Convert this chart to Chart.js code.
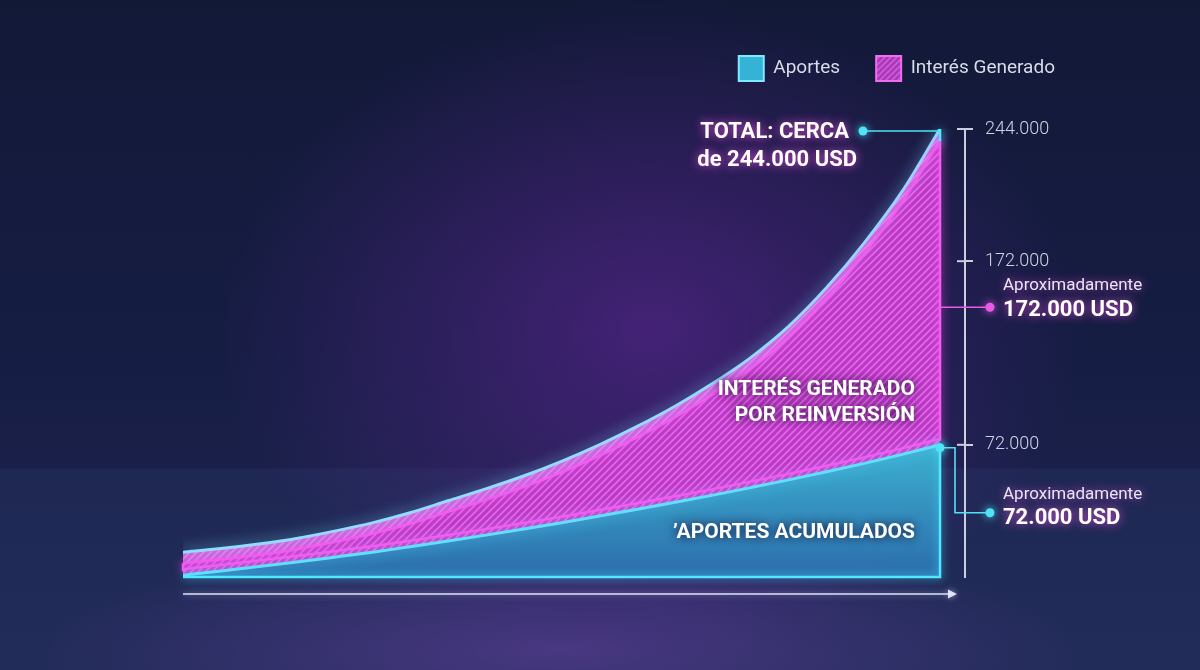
<!DOCTYPE html>
<html>
<head>
<meta charset="utf-8">
<script src="https://cdn.jsdelivr.net/npm/chart.js@4.4.0/dist/chart.umd.min.js"></script>
<style>
  html, body { margin: 0; padding: 0; width: 1200px; height: 670px; overflow: hidden; }
  body {
    background:
      radial-gradient(ellipse 430px 330px at 650px 330px, rgba(105, 38, 160, 0.55), rgba(105, 38, 160, 0) 100%),
      radial-gradient(ellipse 520px 110px at 560px 650px, rgba(120, 70, 180, 0.45), rgba(120, 70, 180, 0) 100%),
      linear-gradient(180deg, #121937 0%, #161d44 55%, #1a2049 69.8%, #1e2853 70%, #222c59 100%);
  }
  #wrap { position: relative; width: 1200px; height: 670px; }
</style>
</head>
<body>
<div id="wrap"><canvas id="myChart" width="1200" height="670"></canvas></div>
<script>
// years of the plan (x axis, not labelled in the picture)
let years = [0,1,2,3,4,5,6,7,8,9,10,11,12,13,14,15,16,17,18,19,20];
// accumulated contributions, USD
let aportes = [1000,3300,5700,8200,10800,13500,16500,19600,22800,26100,29600,33200,36900,40700,44600,48700,52900,57300,61900,66800,72000];
// interest generated by reinvestment, USD (stacked on aportes)
let interes = [12500,12200,12300,12800,14200,16000,18500,21900,25200,28900,33400,38800,45100,52300,60900,70800,83600,100200,120100,143200,172000];
// right axis tick values
let yTicks = [72000, 172000, 244000];

const fmt = v => v.toLocaleString('de-DE');
const FONT = "Roboto, 'Noto Sans', sans-serif";

// diagonal hatch used for the interest area
function makeHatch(base, stripe, size) {
  const c = document.createElement('canvas');
  c.width = size; c.height = size;
  const g = c.getContext('2d');
  g.fillStyle = base;
  g.fillRect(0, 0, size, size);
  g.strokeStyle = stripe;
  g.lineWidth = 1.6;
  g.beginPath();
  g.moveTo(-1, size + 1); g.lineTo(size + 1, -1);
  g.moveTo(-1, 1); g.lineTo(1, -1);
  g.moveTo(size - 1, size + 1); g.lineTo(size + 1, size - 1);
  g.stroke();
  return g.createPattern(c, 'repeat');
}
const ctx = document.getElementById('myChart');
const hatch = makeHatch('rgba(198,60,204,0.94)', 'rgba(232,112,236,0.9)', 7);
const legendHatch = makeHatch('#a73bb8', '#d35bd8', 6);

function aportesFill(context) {
  const area = context.chart.chartArea;
  if (!area) return '#34a6cc';
  const y = context.chart.scales.y;
  const g = context.chart.ctx.createLinearGradient(0, y.getPixelForValue(72000), 0, area.bottom);
  g.addColorStop(0, 'rgba(62,185,214,0.95)');
  g.addColorStop(1, 'rgba(44,112,176,0.95)');
  return g;
}

// glow for the outlines
const glow = {
  id: 'glow',
  beforeDatasetDraw(chart, args) {
    const c = chart.ctx;
    c.save();
    c.shadowColor = args.index === 0 ? 'rgba(70,230,255,0.9)' : 'rgba(120,220,255,0.9)';
    c.shadowBlur = 14;
  },
  afterDatasetDraw(chart) {
    chart.ctx.restore();
  }
};

function pathOffset(c, pts, off, move) {
  if (move) c.moveTo(pts[0].x, pts[0].y + off);
  for (let i = 1; i < pts.length; i++) {
    const p = pts[i - 1], q = pts[i];
    c.bezierCurveTo(p.cp2x, p.cp2y + off, q.cp1x, q.cp1y + off, q.x, q.y + off);
  }
}
function strokeOffset(c, pts, off) {
  c.beginPath();
  pathOffset(c, pts, off, true);
  c.stroke();
}

function text(c, str, x, y, font, color, align, shadow) {
  c.save();
  c.font = font;
  c.fillStyle = color;
  c.textAlign = align;
  c.textBaseline = 'middle';
  if (shadow) { c.shadowColor = shadow; c.shadowBlur = 10; }
  c.fillText(str, x, y);
  c.restore();
}

function dot(c, x, y, color) {
  c.save();
  c.fillStyle = color;
  c.shadowColor = color; c.shadowBlur = 8;
  c.beginPath(); c.arc(x, y, 4.5, 0, Math.PI * 2); c.fill();
  c.restore();
}

const decor = {
  id: 'decor',
  afterDatasetsDraw(chart) {
    const c = chart.ctx;
    const ys = chart.scales.y;
    const a = chart.getDatasetMeta(0).data;
    const b = chart.getDatasetMeta(1).data;
    const n = a.length - 1;
    const xEnd = a[n].x, xStart = a[0].x;
    const base = ys.getPixelForValue(0);
    const area = chart.chartArea;

    // light band under the top outline
    c.save();
    c.fillStyle = 'rgba(235,180,255,0.30)';
    c.beginPath();
    pathOffset(c, b, 0, true);
    c.lineTo(b[n].x, b[n].y + 11);
    const rev = b.slice().reverse().map(p => ({ x: p.x, y: p.y, cp1x: p.cp2x, cp1y: p.cp2y, cp2x: p.cp1x, cp2y: p.cp1y }));
    pathOffset(c, rev, 11, false);
    c.closePath();
    c.fill();
    c.restore();

    c.save();
    // pink inner edges
    c.shadowColor = 'rgba(255,80,240,0.9)';
    c.shadowBlur = 10;
    c.strokeStyle = '#f25cf0';
    c.lineWidth = 2.5;
    strokeOffset(c, b, 11);
    strokeOffset(c, a, -6);
    c.beginPath();
    c.moveTo(xEnd, b[n].y + 11); c.lineTo(xEnd, a[n].y - 4);
    c.moveTo(xStart, b[0].y + 11); c.lineTo(xStart, a[0].y - 4);
    c.stroke();
    // cyan edges
    c.shadowColor = 'rgba(70,230,255,0.9)';
    c.strokeStyle = '#4fe9ff';
    c.beginPath();
    c.moveTo(xEnd, b[n].y); c.lineTo(xEnd, b[n].y + 12);
    c.moveTo(xEnd, a[n].y); c.lineTo(xEnd, base);
    c.lineTo(xStart, base);
    c.stroke();
    c.restore();

    // x arrow
    c.save();
    c.strokeStyle = '#dfe5f4';
    c.fillStyle = '#dfe5f4';
    c.lineWidth = 1.6;
    c.shadowColor = 'rgba(200,200,255,0.6)'; c.shadowBlur = 6;
    const ay = base + 17;
    c.beginPath(); c.moveTo(xStart, ay); c.lineTo(area.right - 10, ay); c.stroke();
    c.beginPath(); c.moveTo(area.right - 8, ay); c.lineTo(area.right - 17, ay - 4.5); c.lineTo(area.right - 17, ay + 4.5); c.closePath(); c.fill();
    c.restore();

    // left halves of the axis tick marks
    c.save();
    c.strokeStyle = '#c9cfe0';
    c.lineWidth = 2;
    yTicks.forEach(v => {
      const py = ys.getPixelForValue(v);
      c.beginPath(); c.moveTo(ys.left - 8, py); c.lineTo(ys.left, py); c.stroke();
    });
    c.restore();

    // total annotation
    const totalY = ys.getPixelForValue(aportes[n] + interes[n]);
    c.save();
    c.strokeStyle = '#4fe3f5'; c.lineWidth = 1.6;
    c.beginPath(); c.moveTo(863, totalY + 2); c.lineTo(xEnd, totalY + 2); c.stroke();
    c.restore();
    dot(c, 863, totalY + 2, '#4fe3f5');
    const bold = "bold 22px " + FONT;
    text(c, 'TOTAL: CERCA', 849, totalY + 3, bold, '#ffffff', 'right', 'rgba(255,90,240,0.85)');
    text(c, 'de ' + fmt(aportes[n] + interes[n]) + ' USD', 857, totalY + 31, bold, '#ffffff', 'right', 'rgba(255,90,240,0.85)');

    // interest annotation
    const iy = ys.getPixelForValue(172000) + 46;
    c.save();
    c.strokeStyle = '#e85ae8'; c.lineWidth = 1.6;
    c.beginPath(); c.moveTo(xEnd, iy); c.lineTo(990, iy); c.stroke();
    c.restore();
    dot(c, 990, iy, '#e85ae8');
    text(c, 'Aproximadamente', 1003, iy - 21, "17px " + FONT, '#e8e6f2', 'left', 'rgba(255,90,240,0.7)');
    text(c, fmt(interes[n]) + ' USD', 1003, iy + 3, bold, '#ffffff', 'left', 'rgba(255,90,240,0.85)');

    // contributions annotation
    const ay2 = a[n].y;
    const ly = ay2 + 68;
    dot(c, xEnd, ay2 + 3, '#4fe3f5');
    c.save();
    c.strokeStyle = '#4fe3f5'; c.lineWidth = 1.6;
    c.beginPath(); c.moveTo(xEnd, ay2 + 3); c.lineTo(955, ay2 + 3); c.lineTo(955, ly); c.lineTo(990, ly); c.stroke();
    c.restore();
    dot(c, 990, ly, '#4fe3f5');
    text(c, 'Aproximadamente', 1003, ly - 18, "17px " + FONT, '#e8e6f2', 'left', 'rgba(255,90,240,0.7)');
    text(c, fmt(aportes[n]) + ' USD', 1003, ly + 6, bold, '#ffffff', 'left', 'rgba(255,90,240,0.85)');

    // labels inside the areas
    const dark = 'rgba(20,10,45,0.95)';
    const lbl = "bold 21px " + FONT;
    text(c, 'INTERÉS GENERADO', 915, 390, lbl, '#ffffff', 'right', dark);
    text(c, 'POR REINVERSIÓN', 915, 416, lbl, '#ffffff', 'right', dark);
    text(c, '’APORTES ACUMULADOS', 915, 533, lbl, '#ffffff', 'right', dark);
  }
};

new Chart(ctx, {
  type: 'line',
  data: {
    labels: years,
    datasets: [
      {
        label: 'Aportes',
        data: aportes,
        fill: 'origin',
        backgroundColor: aportesFill,
        borderColor: '#52efff',
        borderWidth: 3,
        pointRadius: 0,
        cubicInterpolationMode: 'monotone'
      },
      {
        label: 'Interés Generado',
        data: interes,
        fill: '-1',
        backgroundColor: hatch,
        borderColor: '#86e4ff',
        borderWidth: 3,
        pointRadius: 0,
        cubicInterpolationMode: 'monotone'
      }
    ]
  },
  options: {
    responsive: false,
    animation: false,
    layout: { padding: { left: 183, right: 109, top: 20, bottom: 93 } },
    scales: {
      // hidden x axis kept at the top so it leaves room under the legend
      x: {
        type: 'linear', min: 0, max: 20.66, position: 'top',
        ticks: { display: false }, grid: { display: false }, border: { display: false },
        afterFit: s => { s.height = 38; }
      },
      y: {
        position: 'right',
        stacked: true,
        min: 0,
        max: 244000,
        afterBuildTicks: s => { s.ticks = yTicks.map(v => ({ value: v })); },
        afterFit: s => { s.width = 126; },
        border: { color: '#c9cfe0', width: 2 },
        grid: { drawOnChartArea: false, color: '#c9cfe0', lineWidth: 2, tickLength: 8 },
        ticks: {
          color: '#cfd4e4',
          padding: 12,
          font: { family: FONT, size: 18, weight: '300' },
          callback: v => fmt(v)
        }
      }
    },
    plugins: {
      legend: {
        position: 'top',
        align: 'end',
        labels: {
          color: '#d8dce9',
          font: { family: FONT, size: 19 },
          boxWidth: 25,
          boxHeight: 25,
          padding: 36,
          generateLabels: chart => [
            { text: 'Aportes', fillStyle: '#35b3d6', strokeStyle: '#7fe9ff', lineWidth: 2, fontColor: '#d8dce9', datasetIndex: 0 },
            { text: 'Interés Generado', fillStyle: legendHatch, strokeStyle: '#f06cf0', lineWidth: 2, fontColor: '#d8dce9', datasetIndex: 1 }
          ]
        }
      },
      tooltip: { enabled: false }
    }
  },
  plugins: [glow, decor]
});
</script>
</body>
</html>
